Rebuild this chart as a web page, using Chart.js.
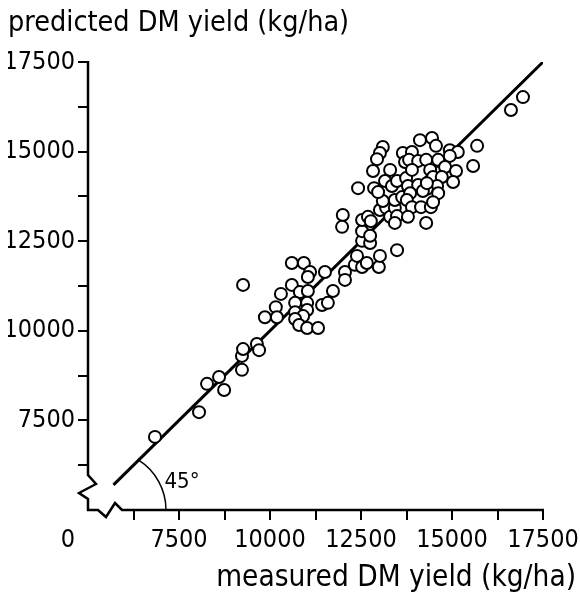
<!DOCTYPE html>
<html lang="en">
<head>
<meta charset="UTF-8">
<title>Measured vs predicted DM yield</title>
<script src="https://cdn.jsdelivr.net/npm/chart.js"></script>
<style>
  html, body { margin: 0; padding: 0; background: #fff; }
</style>
</head>
<body>
<canvas id="chart" width="580" height="599"></canvas>
<script>
  // measured (x) and predicted (y) DM yield, kg/ha
  const measured = [
    6840, 8050, 8270, 8600, 8740, 9230, 9230, 9260, 9640, 9700,
    9260, 9860, 10160, 10190, 10300, 10600, 10930, 11100, 11040, 11510,
    11730, 10600, 10820, 11040, 10690, 11020, 11430, 11590, 10690, 11020,
    10910, 10690, 10800, 11020, 11320, 12060, 12060, 12330, 12390, 12530,
    12660, 12990, 13020, 13490, 12530, 12750, 12530, 12750, 12000, 11980,
    12530, 12690, 12770, 13020, 13190, 13300, 13430, 13490, 13430, 13100,
    13430, 13630, 12420, 12860, 12970, 13160, 13350, 13490, 13740, 12830,
    13300, 13100, 13020, 12940, 13650, 13710, 14120, 14450, 14560, 14940,
    15160, 14940, 13900, 13820, 14070, 14290, 14620, 13900, 14400, 14810,
    15110, 15030, 13790, 14070, 14480, 14720, 14590, 14310, 14200, 14620,
    13850, 13760, 13900, 14150, 14420, 14480, 13790, 14290, 15690, 15580,
    16620, 16950, 14310
  ];
  const predicted = [
    7040, 7730, 8520, 8710, 8350, 8910, 9300, 9490, 9630, 9460,
    11280, 10380, 10660, 10380, 11030, 11890, 11890, 11640, 11500, 11640,
    11110, 11280, 11080, 11110, 10780, 10780, 10720, 10780, 10520, 10580,
    10410, 10330, 10160, 10080, 10080, 11640, 11420, 11840, 12090, 11780,
    11890, 11780, 12090, 12250, 12510, 12450, 12780, 12650, 13230, 12900,
    13090, 13180, 13060, 13370, 13430, 13180, 13430, 13200, 13010, 13620,
    13650, 13730, 13980, 13980, 13870, 14180, 14040, 14180, 14260, 14460,
    14490, 15130, 14960, 14790, 14960, 14710, 15320, 15380, 15160, 15040,
    14990, 14880, 14990, 14770, 14740, 14770, 14770, 14490, 14490, 14570,
    14460, 14150, 14040, 14070, 14290, 14290, 14040, 13960, 13900, 13840,
    13840, 13650, 13450, 13450, 13450, 13590, 13180, 13010, 15160, 14600,
    16160, 16520, 14120
  ];
  // 1:1 line
  const lineMeasured = [5700, 17500];
  const linePredicted = [5700, 17500];
  const labelledTicks = [7500, 10000, 12500, 15000, 17500];
  const axisMin = 5000;
  const axisMax = 17500;
  const tickStep = 1250;

  const FONT = '"DejaVu Sans Condensed", "DejaVu Sans", sans-serif';
  const TICK_SIZE = 25;
  Chart.defaults.font.family = FONT;
  Chart.defaults.color = '#000';

  const tickLabel = v => labelledTicks.includes(v) ? String(v) : '';
  const tickColor = c => (c.tick && c.tick.value === axisMin) ? 'rgba(0,0,0,0)' : '#000';

  // axes with the broken origin, the 45 degree arc and the "0"
  const framePlugin = {
    id: 'frame',
    beforeDatasetsDraw(chart) {
      const ctx = chart.ctx;
      const x0 = chart.scales.x.left, y0 = chart.scales.y.bottom;
      const top = chart.scales.y.top, right = chart.scales.x.right;
      ctx.save();
      ctx.strokeStyle = '#000';
      ctx.lineWidth = 2.5;
      ctx.beginPath();
      ctx.moveTo(x0, top - 1);
      ctx.lineTo(x0, y0 - 35);
      ctx.lineTo(x0 + 8, y0 - 26);
      ctx.lineTo(x0 - 9, y0 - 17);
      ctx.lineTo(x0, y0 - 11);
      ctx.lineTo(x0, y0);
      ctx.lineTo(x0 + 10, y0);
      ctx.lineTo(x0 + 18, y0 + 7);
      ctx.lineTo(x0 + 27, y0 - 7);
      ctx.lineTo(x0 + 34, y0);
      ctx.lineTo(right + 1, y0);
      ctx.stroke();

      ctx.lineWidth = 1.5;
      ctx.beginPath();
      ctx.arc(x0 + 19, y0, 59, -58 * Math.PI / 180, 0);
      ctx.stroke();

      ctx.fillStyle = '#000';
      ctx.textAlign = 'center';
      ctx.textBaseline = 'alphabetic';
      ctx.font = '22px ' + FONT;
      ctx.fillText('45°', x0 + 94, y0 - 22);
      ctx.font = TICK_SIZE + 'px ' + FONT;
      ctx.fillText('0', x0 - 20, y0 + 37);
      ctx.restore();
    }
  };

  new Chart(document.getElementById('chart'), {
    type: 'scatter',
    data: {
      datasets: [
        {
          label: 'yield',
          data: measured.map((m, i) => ({ x: m, y: predicted[i] })),
          pointRadius: 6,
          pointBorderWidth: 2,
          pointBackgroundColor: '#fff',
          pointBorderColor: '#000'
        },
        {
          type: 'line',
          label: '1:1',
          data: lineMeasured.map((m, i) => ({ x: m, y: linePredicted[i] })),
          borderColor: '#000',
          borderWidth: 3,
          pointRadius: 0,
          fill: false
        }
      ]
    },
    options: {
      responsive: false,
      animation: false,
      layout: { padding: { left: 8, right: 4, top: 0, bottom: 0 } },
      plugins: {
        legend: { display: false },
        tooltip: { enabled: false },
        title: {
          display: true,
          text: 'predicted DM yield (kg/ha)',
          align: 'start',
          font: { size: 28.5, weight: 'normal', lineHeight: 1.2 },
          padding: { top: 6, bottom: 21.8 }
        },
        subtitle: {
          display: true,
          position: 'bottom',
          text: 'measured DM yield (kg/ha)',
          align: 'end',
          font: { size: 29.5, weight: 'normal', lineHeight: 1.2 },
          padding: { top: 0, bottom: 3 }
        }
      },
      scales: {
        x: {
          type: 'linear',
          min: axisMin,
          max: axisMax,
          border: { display: false },
          grid: { drawOnChartArea: false, drawTicks: true, tickLength: 10, lineWidth: 2, color: tickColor },
          ticks: { stepSize: tickStep, autoSkip: false, maxRotation: 0, padding: 5, font: { size: TICK_SIZE }, callback: tickLabel },
          afterFit(s) { s.height = 50.6; s.paddingLeft = 0; s.paddingRight = 0; }
        },
        y: {
          type: 'linear',
          min: axisMin,
          max: axisMax,
          border: { display: false },
          grid: { drawOnChartArea: false, drawTicks: true, tickLength: 10, lineWidth: 2, color: tickColor },
          ticks: { stepSize: tickStep, autoSkip: false, padding: 3, font: { size: TICK_SIZE }, callback: tickLabel },
          afterFit(s) { s.width = 80; s.paddingTop = 0; s.paddingBottom = 0; }
        },
        spare: {
          type: 'linear',
          position: 'right',
          display: true,
          border: { display: false },
          grid: { display: false },
          ticks: { display: false },
          afterFit(s) { s.width = 33; }
        }
      }
    },
    plugins: [framePlugin]
  });
</script>
</body>
</html>
